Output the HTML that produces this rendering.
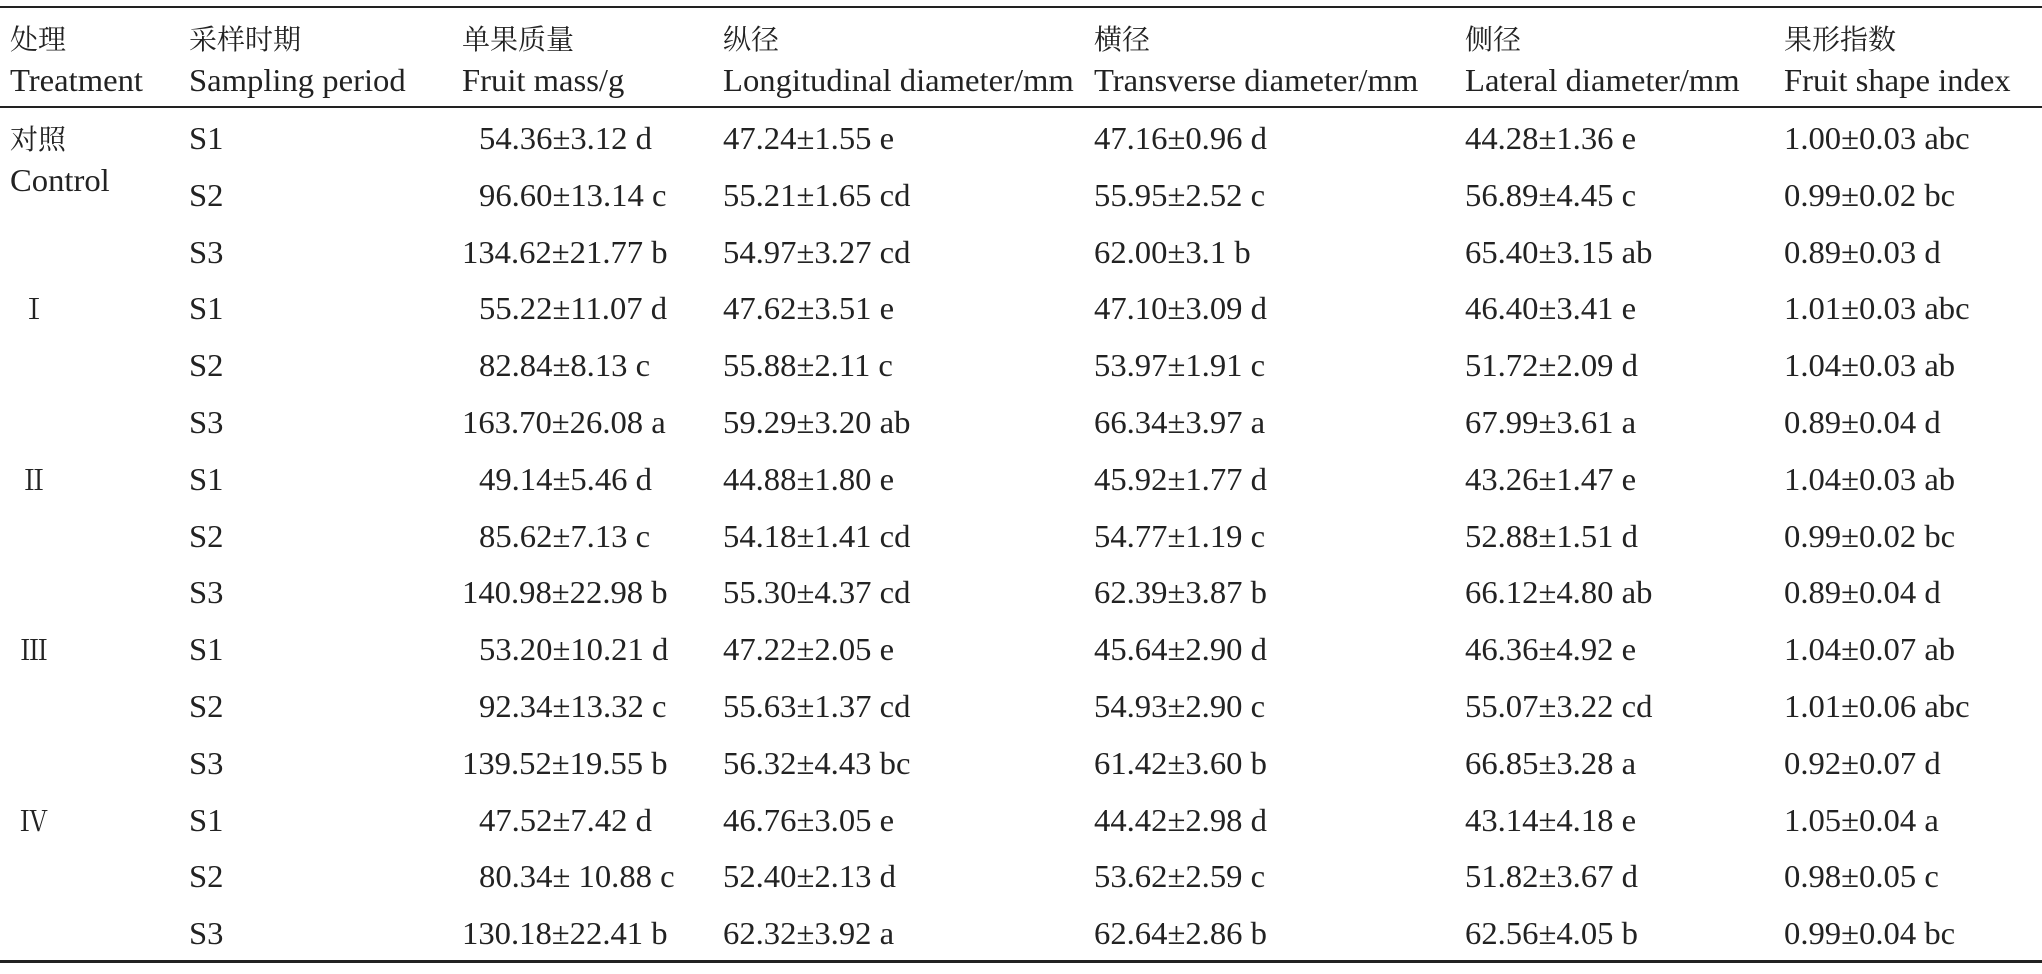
<!DOCTYPE html>
<html><head><meta charset="utf-8"><style>
body{margin:0;background:#fff;width:2042px;height:974px;overflow:hidden;position:relative}
.l{position:absolute;left:0;width:2042px;background:#222}
.t{position:absolute;font-family:"Liberation Serif","Noto Serif CJK SC",serif;font-size:32px;line-height:36px;color:#222;white-space:pre;transform:scaleX(1.02);transform-origin:0 50%}
.c{font-family:"Noto Serif CJK SC","Noto Sans CJK SC",serif;font-size:28px;transform:none}
</style></head><body>
<div class="l" style="top:6px;height:2px"></div>
<div class="l" style="top:106px;height:2px"></div>
<div class="l" style="top:960px;height:3px"></div>
<div id="w"></div>
<script>
var H=[["处理","Treatment",10],["采样时期","Sampling period",189],["单果质量","Fruit mass/g",462],["纵径","Longitudinal diameter/mm",723],["横径","Transverse diameter/mm",1094],["侧径","Lateral diameter/mm",1465],["果形指数","Fruit shape index",1784]];
var R=[["对照","S1","54.36±3.12 d","47.24±1.55 e","47.16±0.96 d","44.28±1.36 e","1.00±0.03 abc"],
["","S2","96.60±13.14 c","55.21±1.65 cd","55.95±2.52 c","56.89±4.45 c","0.99±0.02 bc"],
["","S3","134.62±21.77 b","54.97±3.27 cd","62.00±3.1 b","65.40±3.15 ab","0.89±0.03 d"],
["Ⅰ","S1","55.22±11.07 d","47.62±3.51 e","47.10±3.09 d","46.40±3.41 e","1.01±0.03 abc"],
["","S2","82.84±8.13 c","55.88±2.11 c","53.97±1.91 c","51.72±2.09 d","1.04±0.03 ab"],
["","S3","163.70±26.08 a","59.29±3.20 ab","66.34±3.97 a","67.99±3.61 a","0.89±0.04 d"],
["Ⅱ","S1","49.14±5.46 d","44.88±1.80 e","45.92±1.77 d","43.26±1.47 e","1.04±0.03 ab"],
["","S2","85.62±7.13 c","54.18±1.41 cd","54.77±1.19 c","52.88±1.51 d","0.99±0.02 bc"],
["","S3","140.98±22.98 b","55.30±4.37 cd","62.39±3.87 b","66.12±4.80 ab","0.89±0.04 d"],
["Ⅲ","S1","53.20±10.21 d","47.22±2.05 e","45.64±2.90 d","46.36±4.92 e","1.04±0.07 ab"],
["","S2","92.34±13.32 c","55.63±1.37 cd","54.93±2.90 c","55.07±3.22 cd","1.01±0.06 abc"],
["","S3","139.52±19.55 b","56.32±4.43 bc","61.42±3.60 b","66.85±3.28 a","0.92±0.07 d"],
["Ⅳ","S1","47.52±7.42 d","46.76±3.05 e","44.42±2.98 d","43.14±4.18 e","1.05±0.04 a"],
["","S2","80.34± 10.88 c","52.40±2.13 d","53.62±2.59 c","51.82±3.67 d","0.98±0.05 c"],
["","S3","130.18±22.41 b","62.32±3.92 a","62.64±2.86 b","62.56±4.05 b","0.99±0.04 bc"]];
var s="";
function d(x,y,t,cls){s+='<div class="t'+(cls?' '+cls:'')+'" style="left:'+x+'px;top:'+(y-18)+'px">'+t+'</div>';}
H.forEach(function(h){d(h[2],38,h[0],'c');d(h[2],80,h[1]);});
R.forEach(function(r,i){var y=138+i*56.8;
 if(r[0]){ if(r[0]=="对照"){d(10,y,r[0],'c');d(10,180,"Control");} else d(20,y,r[0],'c');}
 d(189,y,r[1]);
 var x=r[2].indexOf(".")==3?462:479; d(x,y,r[2]);
 d(723,y,r[3]);d(1094,y,r[4]);d(1465,y,r[5]);d(1784,y,r[6]);});
document.getElementById("w").innerHTML=s;
</script>
</body></html>
